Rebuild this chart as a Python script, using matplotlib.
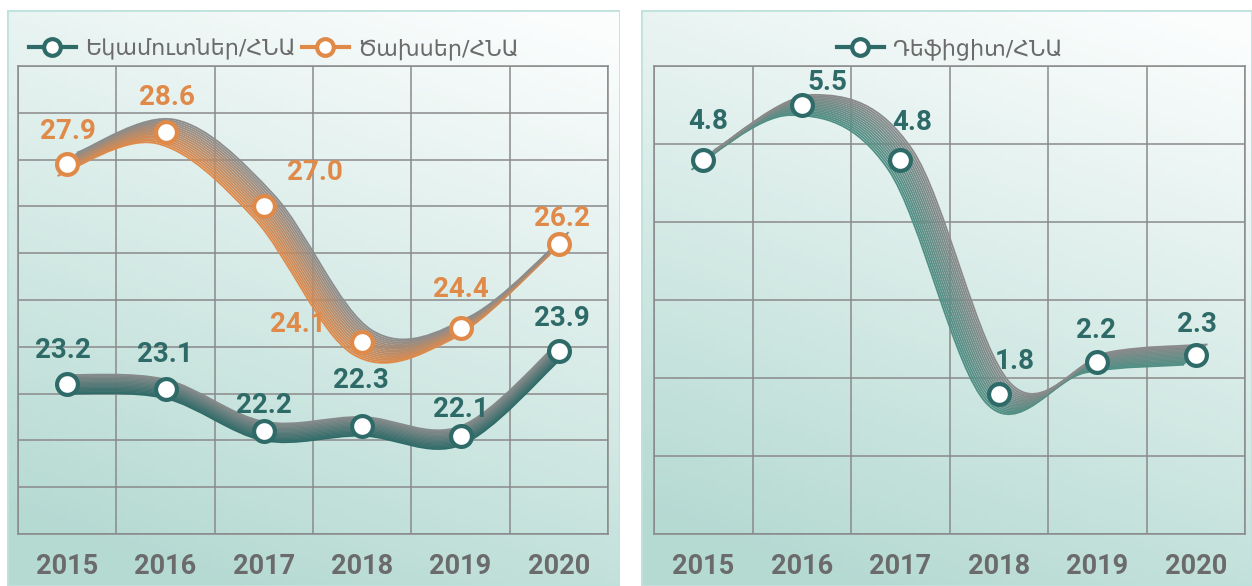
import numpy as np
import matplotlib.pyplot as plt
from matplotlib.path import Path
from matplotlib.patches import PathPatch, Rectangle
from matplotlib.lines import Line2D
from matplotlib import font_manager as fm
from matplotlib.colors import to_rgb

# data
years = ['2015', '2016', '2017', '2018', '2019', '2020']
revenue = [23.2, 23.1, 22.2, 22.3, 22.1, 23.9]
expense = [27.9, 28.6, 27.0, 24.1, 24.4, 26.2]
deficit = [4.8, 5.5, 4.8, 1.8, 2.2, 2.3]
revenue_name = 'Եկամուտներ/ՀՆԱ'
expense_name = 'Ծախսեր/ՀՆԱ'
deficit_name = 'Դեֆիցիտ/ՀՆԱ'

TEAL = '#2e6b68'
ORANGE = '#e08a4a'
GREEN = '#4f8f84'
GRAY_TXT = '#6b6b6b'
GRID = '#8a8a8a'


def pick_font(names):
    for n in names:
        try:
            fm.findfont(fm.FontProperties(family=n), fallback_to_default=False)
            return n
        except Exception:
            pass
    return 'DejaVu Sans'


NUMFONT = pick_font(['Roboto', 'DejaVu Sans'])


def bezier_path(xs, ys):
    pts = np.column_stack([xs, ys]).astype(float)
    n = len(pts)
    verts = [pts[0]]
    codes = [Path.MOVETO]
    for i in range(n - 1):
        p0 = pts[max(i - 1, 0)]
        p1, p2 = pts[i], pts[i + 1]
        p3 = pts[min(i + 2, n - 1)]
        verts += [p1 + (p2 - p0) / 6, p2 - (p3 - p1) / 6, p2]
        codes += [Path.CURVE4] * 3
    return Path(verts, codes)


def ribbon(ax, vals, c1, c2, sx, sy, n=16):
    x = np.arange(len(vals), dtype=float)
    y = np.array(vals, dtype=float)
    a, b = np.array(to_rgb(c1)), np.array(to_rgb(c2))
    for t in np.linspace(-1, 1, n):
        col = a + (b - a) * (t + 1) / 2
        p = bezier_path(x + t * sx, y + t * sy)
        ax.add_patch(PathPatch(p, fc='none', ec=col, lw=1.3, capstyle='butt', zorder=3))


def markers(ax, vals, color, label):
    ax.plot(range(len(vals)), vals, ls='none', marker='o', ms=15, mfc='white',
            mec=color, mew=3, zorder=5)
    return Line2D([], [], color=color, lw=3, marker='o', ms=12, mfc='white', mec=color, mew=3,
                  label=label)


def labels(ax, vals, color, offs):
    for i, (v, o) in enumerate(zip(vals, offs)):
        ax.annotate(f'{v:.1f}', (i, v), xytext=(o[0] * 0.72, o[1] * 0.72),
                    textcoords='offset points', ha='center', va='center', color=color,
                    fontsize=20, fontweight='bold', family=NUMFONT, zorder=7)


def panel_bg(fig, rect):
    bg = fig.add_axes(rect, zorder=-5)
    h, w = 120, 120
    v = np.linspace(0, 1, h)[:, None]
    u = np.linspace(0, 1, w)[None, :]
    k = np.clip(0.85 * v + 0.3 * u - 0.1, 0, 1)[..., None]
    bot = np.array(to_rgb('#b5dad2'))
    top = np.array(to_rgb('#fbfdfd'))
    img = bot * (1 - k) + top * k
    bg.imshow(img, origin='lower', extent=[0, 1, 0, 1], aspect='auto')
    bg.add_patch(Rectangle((0, 0), 1, 1, transform=bg.transAxes, fc='none', ec='#bfe2dc', lw=2))
    bg.set_xlim(0, 1)
    bg.set_ylim(0, 1)
    bg.axis('off')


def style_axes(ax, ymin, ymax):
    ax.set_facecolor('none')
    ax.set_xlim(-0.5, 5.5)
    ax.set_ylim(ymin, ymax)
    ax.set_yticks(np.arange(ymin, ymax + 1))
    ax.set_yticklabels([])
    ax.set_xticks(range(6))
    ax.set_xticklabels(years, fontsize=19.5, fontweight='bold', color=GRAY_TXT, family=NUMFONT)
    ax.set_xticks(np.arange(-0.5, 6), minor=True)
    ax.tick_params(which='both', length=0)
    ax.tick_params(axis='x', pad=14)
    ax.grid(which='minor', axis='x', color=GRID, lw=1.1)
    ax.grid(which='major', axis='y', color=GRID, lw=1.1)
    for s in ax.spines.values():
        s.set_color(GRID)
        s.set_linewidth(1.1)
    ax.set_axisbelow(True)


W, H = 1252, 586
fig = plt.figure(figsize=(W / 100, H / 100), dpi=100)
panel_bg(fig, [7 / W, 0, 613 / W, 576 / H])
panel_bg(fig, [641 / W, 0, 611 / W, 576 / H])

ax1 = fig.add_axes([18 / W, 1 - 534 / H, 590 / W, 468 / H])
ax2 = fig.add_axes([654 / W, 1 - 534 / H, 591 / W, 468 / H])

# left panel
style_axes(ax1, 20, 30)
ribbon(ax1, expense, ORANGE, '#8c8c8c', 0.10, 0.25)
ribbon(ax1, revenue, TEAL, '#858a8a', 0.0, 0.2)
h1 = markers(ax1, revenue, TEAL, revenue_name)
h2 = markers(ax1, expense, ORANGE, expense_name)
labels(ax1, revenue, TEAL, [(-4, 34), (-1, 34), (0, 26), (-1, 46), (0, 26), (3, 33)])
labels(ax1, expense, ORANGE, [(1, 33), (1, 34), (51, 34), (-64, 18), (0, 39), (3, 25)])
ax1.legend(handles=[h1, h2], loc='lower left', bbox_to_anchor=(0.0, 0.99), ncol=2,
           frameon=False, fontsize=16, labelcolor=GRAY_TXT, handlelength=2.1,
           handletextpad=0.4, columnspacing=0.3, borderaxespad=0.1)

# right panel
style_axes(ax2, 0, 6)
ribbon(ax2, deficit, GREEN, '#8a8a8a', 0.12, 0.13)
h3 = markers(ax2, deficit, TEAL, deficit_name)
labels(ax2, deficit, TEAL, [(5, 38), (26, 23), (12, 37), (16, 32), (-1, 32), (1, 30)])
ax2.legend(handles=[h3], loc='lower center', bbox_to_anchor=(0.5, 0.99),
           frameon=False, fontsize=16, labelcolor=GRAY_TXT, handlelength=2.1,
           handletextpad=0.4, borderaxespad=0.1)

fig.savefig('out.png', dpi=100)
